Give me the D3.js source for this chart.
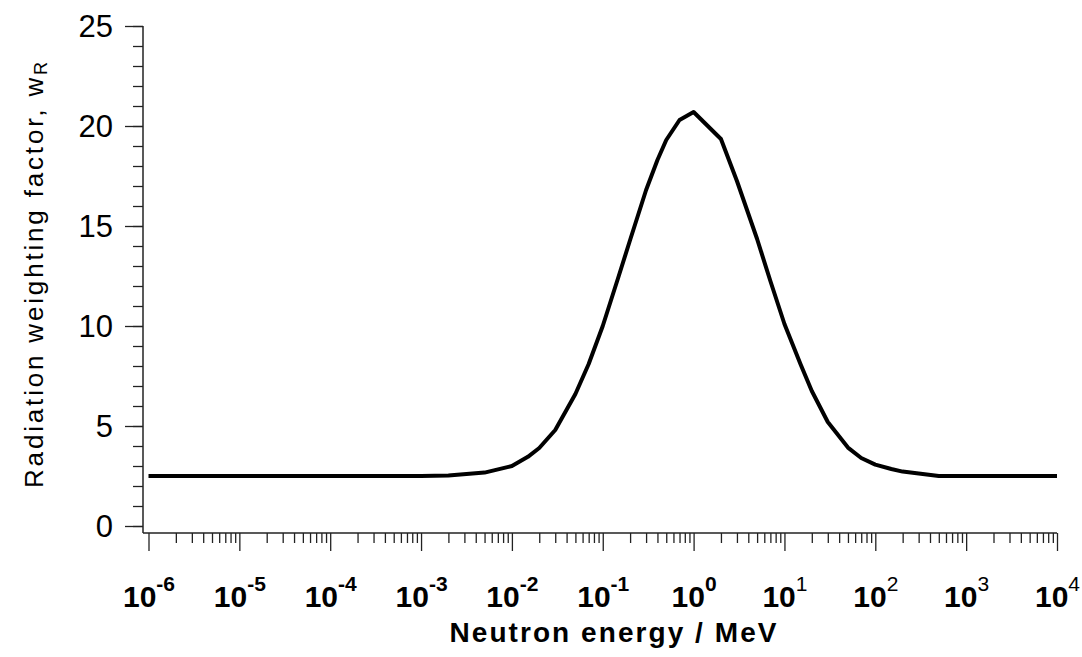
<!DOCTYPE html>
<html>
<head>
<meta charset="utf-8">
<script src="https://cdn.jsdelivr.net/npm/d3@7"></script>
<style>
  body { margin: 0; background: #fff; }
  svg { display: block; }
  text { font-family: Arial, "Liberation Sans", sans-serif; fill: #000; }
</style>
</head>
<body>
<div id="chart"></div>
<script>
// Data (energy in MeV, weighting factor)
const energies = [1e-6, 1e-5, 1e-4, 1e-3, 0.002, 0.005, 0.01, 0.015, 0.02, 0.03, 0.05, 0.07,
                  0.1, 0.15, 0.2, 0.3, 0.4, 0.5, 0.7, 1, 2, 3, 5, 7, 10, 15, 20, 30, 50, 70,
                  100, 150, 200, 500, 1e3, 1e4];
const wR       = [2.5, 2.5, 2.5, 2.5, 2.53, 2.67, 3.0, 3.46, 3.9, 4.8, 6.6, 8.1,
                  10.0, 12.5, 14.3, 16.8, 18.3, 19.3, 20.3, 20.7, 19.35, 17.25, 14.35, 12.25, 10.1, 8.1, 6.75, 5.2, 3.92, 3.4,
                  3.07, 2.85, 2.72, 2.5, 2.5, 2.5];
const xExponents = [-6, -5, -4, -3, -2, -1, 0, 1, 2, 3, 4];
const yMajor = [0, 5, 10, 15, 20, 25];

const W = 1082, H = 657;

const svg = d3.select("#chart").append("svg")
    .attr("width", W)
    .attr("height", H);

// scales
const x = d3.scaleLog().domain([1e-6, 1e4]).range([148.5, 1057]);
const y = d3.scaleLinear().domain([0, 25]).range([526, 26]);

const axisX0 = 143, axisY0 = 533;   // where the axis lines sit
const axisColor = "#222";

// minor tick values on the log axis: 2..9 within each decade
let xMinor = [];
xExponents.slice(0, -1).forEach(e => {
  for (let k = 2; k <= 9; k++) xMinor.push(k * Math.pow(10, e));
});

// ---------- X axis ----------
const gxMinor = svg.append("g")
    .attr("transform", `translate(0,${axisY0})`)
    .call(d3.axisBottom(x).tickValues(xMinor).tickSize(10).tickFormat(""));

const gxMajor = svg.append("g")
    .attr("transform", `translate(0,${axisY0})`)
    .call(d3.axisBottom(x)
      .tickValues(xExponents.map(e => Math.pow(10, e)))
      .tickSize(18)
      .tickFormat(""));

[gxMinor, gxMajor].forEach(g => {
  g.select(".domain").remove();
  g.selectAll(".tick line").attr("stroke", axisColor).attr("stroke-width", 1.3);
});

// labels 10^n
gxMajor.selectAll(".tick").each(function(d) {
  const e = Math.round(Math.log10(d));
  const t = d3.select(this).append("text")
      .attr("y", 74)
      .attr("text-anchor", "middle")
      .style("font-size", "30px")
      .style("font-weight", "bold");
  t.append("tspan").text("10");
  t.append("tspan")
      .attr("dy", -16)
      .style("font-size", "21px")
      .style("font-weight", e > 0 ? "normal" : "bold")
      .text(e);
});

svg.append("line")
    .attr("x1", axisX0).attr("x2", x(1e4))
    .attr("y1", axisY0).attr("y2", axisY0)
    .attr("stroke", axisColor).attr("stroke-width", 1.5);

// ---------- Y axis ----------
const gyMinor = svg.append("g")
    .attr("transform", `translate(${axisX0},0)`)
    .call(d3.axisLeft(y).tickValues(d3.range(0, 26)).tickSize(10).tickFormat(""));

const gyMajor = svg.append("g")
    .attr("transform", `translate(${axisX0},0)`)
    .call(d3.axisLeft(y).tickValues(yMajor).tickSize(18).tickPadding(12));

[gyMinor, gyMajor].forEach(g => {
  g.select(".domain").remove();
  g.selectAll(".tick line").attr("stroke", axisColor).attr("stroke-width", 1.3);
});

gyMajor.selectAll(".tick text")
    .attr("dy", "0.34em")
    .style("font-size", "31px")
    .style("font-family", "Arial, 'Liberation Sans', sans-serif")
    .attr("fill", "#000");

svg.append("line")
    .attr("x1", axisX0).attr("x2", axisX0)
    .attr("y1", y(25)).attr("y2", axisY0)
    .attr("stroke", axisColor).attr("stroke-width", 1.5);

// ---------- axis titles ----------
svg.append("text")
    .attr("x", 613)
    .attr("y", 642)
    .attr("text-anchor", "middle")
    .attr("textLength", 327)
    .attr("lengthAdjust", "spacing")
    .style("font-size", "28px")
    .style("font-weight", "bold")
    .text("Neutron energy / MeV");

const yTitle = svg.append("text")
    .attr("transform", "translate(43,275) rotate(-90)")
    .attr("text-anchor", "middle")
    .attr("textLength", 426)
    .attr("lengthAdjust", "spacing")
    .style("font-size", "26px");
yTitle.append("tspan").text("Radiation weighting factor, w");
yTitle.append("tspan")
    .attr("dy", 4)
    .style("font-size", "18px")
    .text("R");

// ---------- curve ----------
const pts = energies.map((e, i) => [e, wR[i]]);

const line = d3.line()
    .x(d => x(d[0]))
    .y(d => y(d[1]));

svg.append("path")
    .datum(pts)
    .attr("fill", "none")
    .attr("stroke", "#000")
    .attr("stroke-width", 4)
    .attr("stroke-linejoin", "round")
    .attr("d", line);
</script>
</body>
</html>
